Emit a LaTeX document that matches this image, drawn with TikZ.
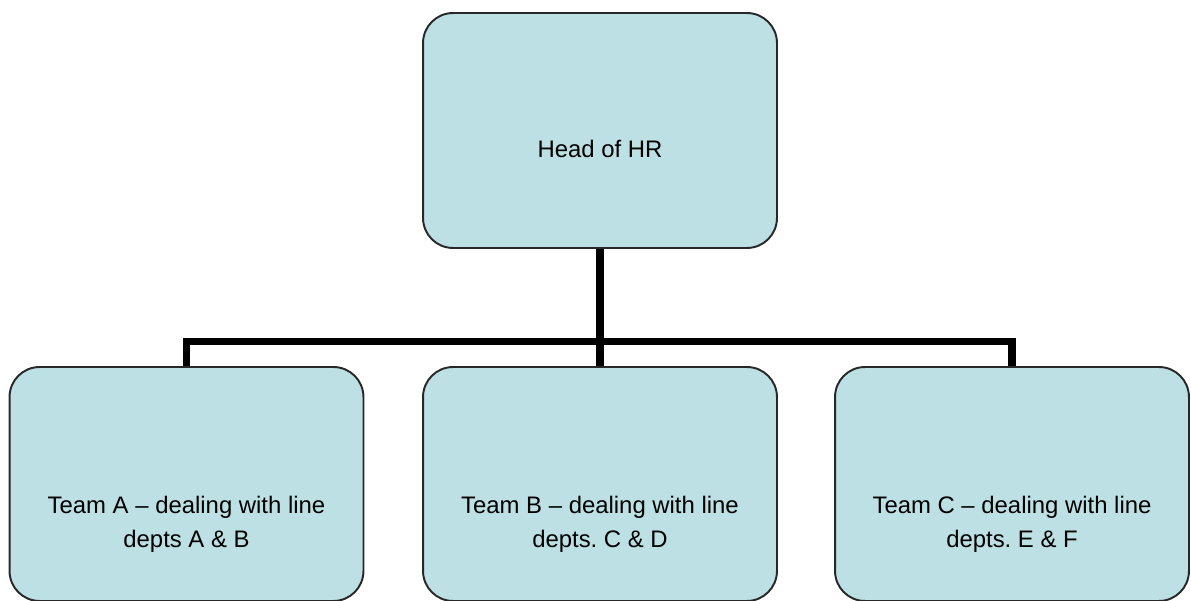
\documentclass[tikz,border=0pt]{standalone}
\usepackage{fontspec}
\setmainfont{Liberation Sans}
\usepackage{tikz}
\usepackage{xcolor}
\usetikzlibrary{calc, positioning}
\definecolor{boxblue}{RGB}{189,224,228}
\definecolor{boxedge}{RGB}{40,40,40}
\frenchspacing

\begin{document}
\begin{tikzpicture}[x=0.02cm, y=-0.02cm,
    hrbox/.style={draw=boxedge, line width=1.1pt, fill=boxblue, rounded corners=0.6cm, minimum width=7.08cm, minimum height=4.68cm, inner sep=0pt},
    boxtext/.style={align=center, inner sep=0pt, font=\fontsize{13.6pt}{19.4pt}\selectfont},
    link/.style={line width=4pt, black}]
                            \useasboundingbox (0, 0) rectangle (1191, 601);
                            \node[hrbox, minimum height=4.7cm] (head) at (600, 130.5) {};
                            \node[hrbox] (teamA) at (186.5, 484) {};
                            \node[hrbox] (teamB) at (600, 484) {};
                            \node[hrbox] (teamC) at (1012, 484) {};
                            \coordinate (bus) at (600, 342);
                            \node[boxtext, anchor=base] (headtext) at (600, 158) {Head of HR};
                            \node[boxtext] (teamAtext) at (186.5, 524) {Team A -- dealing with line\\depts A \& B};
                            \node[boxtext] (teamBtext) at (600, 524) {Team B -- dealing with line\\depts. C \& D};
                            \node[boxtext] (teamCtext) at (1012, 524) {Team C -- dealing with line\\depts. E \& F};
                            \draw[link]
                            (head.south) -- (bus)
                            (bus) -- (teamB.north);
                            \draw[link] (teamA.north) -- ++(0, -25) -| (teamC.north);
                        \end{tikzpicture}
\end{document}
